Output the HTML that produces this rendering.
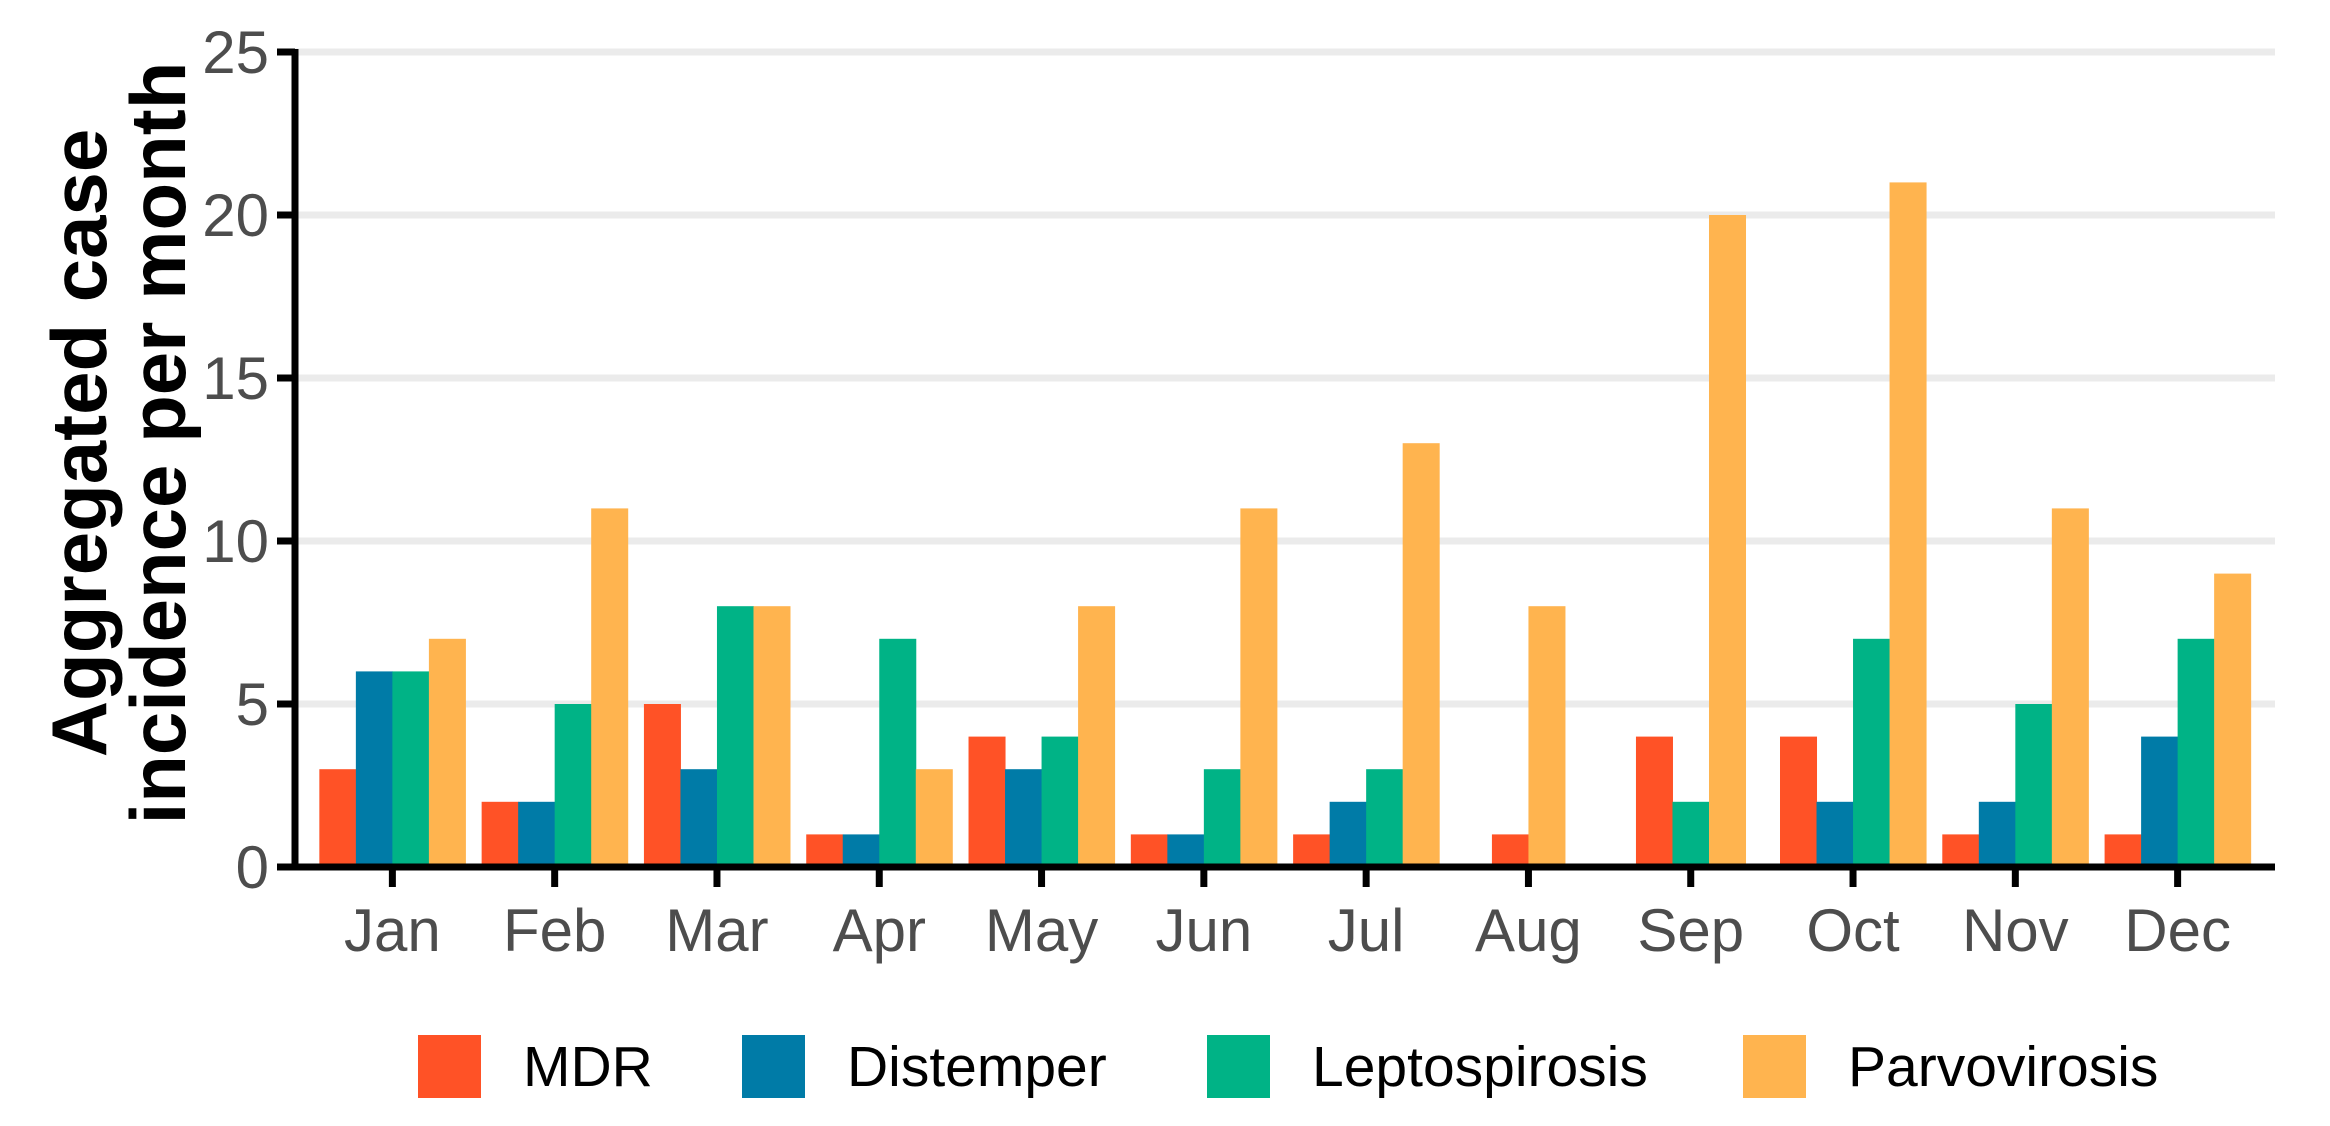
<!DOCTYPE html>
<html><head><meta charset="utf-8"><style>
html,body{margin:0;padding:0;background:#fff;}
svg{display:block;font-family:"Liberation Sans",Arial,sans-serif;}
</style></head><body>
<svg id="chart" width="2330" height="1126" viewBox="0 0 2330 1126" xmlns="http://www.w3.org/2000/svg">
<g id="grid"></g>
<g id="bars"></g>
<g id="axes"></g>
<g id="ylab">
<text x="0" y="0" transform="translate(106,443) rotate(-90)" text-anchor="middle" font-weight="bold" font-size="78" fill="#000">Aggregated case</text>
<text x="0" y="0" transform="translate(185,443) rotate(-90)" text-anchor="middle" font-weight="bold" font-size="78" fill="#000">incidence per month</text>
</g>
<g id="legend"></g>
</svg>
<script>
const months = ["Jan","Feb","Mar","Apr","May","Jun","Jul","Aug","Sep","Oct","Nov","Dec"];
const seriesNames = ["MDR","Distemper","Leptospirosis","Parvovirosis"];
const mdr = [3,2,5,1,4,1,1,1,4,4,1,1];
const distemper = [6,2,3,1,3,1,2,0,0,2,2,4];
const lepto = [6,5,8,7,4,3,3,0,2,7,5,7];
const parvo = [7,11,8,3,8,11,13,8,20,21,11,9];
const yTicks = [0,5,10,15,20,25];
const colors = ["#FF5226","#007BA7","#00B386","#FFB44F"];
const series = [mdr,distemper,lepto,parvo];

const NS="http://www.w3.org/2000/svg";
const x0=295, x1=2275, y0=867, pxPerUnit=32.6;
const band=(x1-x0)/12.2;
const xc=i=>x0+(i+1-0.4)*band;
const y=v=>y0-v*pxPerUnit;
function mk(tag,attrs,parent){const e=document.createElementNS(NS,tag);for(const k in attrs)e.setAttribute(k,attrs[k]);parent.appendChild(e);return e;}
const grid=document.getElementById('grid'),bars=document.getElementById('bars'),axes=document.getElementById('axes'),legend=document.getElementById('legend');
yTicks.forEach(t=>{
  if(t>0){const g=mk('line',{x1:x0,x2:x1,y1:y(t),y2:y(t),stroke:'#ebebeb','stroke-width':7},grid);
  
  }
  const tk=mk('line',{x1:x0-18,x2:x0,y1:y(t),y2:y(t),stroke:'#000','stroke-width':7},axes);
  
  
  const lb=mk('text',{x:x0-26,y:y(t)+21,'text-anchor':'end','font-size':60,fill:'#4d4d4d'},axes);
  lb.textContent=t;
  
  
});
const bw=band*0.9/4;
months.forEach((m,i)=>{
  const present=[];series.forEach((s,k)=>{if(s[i]>0)present.push(k);});
  const start=xc(i)-present.length*bw/2;
  present.forEach((k,j)=>{
    const v=series[k][i];
    const r=mk('rect',{x:start+j*bw,y:y(v),width:bw+0.5,height:y0-y(v),fill:colors[k]},bars);
    
    
  });
  const tk=mk('line',{x1:xc(i),x2:xc(i),y1:y0,y2:y0+20,stroke:'#000','stroke-width':7},axes);
  
  
  const lb=mk('text',{x:xc(i),y:y0+84,'text-anchor':'middle','font-size':60,fill:'#4d4d4d'},axes);
  lb.textContent=m;
  
  
});
const ya=mk('line',{x1:x0,x2:x0,y1:y(25)-3,y2:y0+3.5,stroke:'#000','stroke-width':7},axes);


const xa=mk('line',{x1:x0-3.5,x2:x1,y1:y0,y2:y0,stroke:'#000','stroke-width':7},axes);


const keyX=[418,742,1207,1743];
seriesNames.forEach((n,k)=>{
  const g=mk('g',{},legend);
  
  
  mk('rect',{x:keyX[k],y:1035,width:63,height:63,fill:colors[k]},g);
  const t=mk('text',{x:keyX[k]+105,y:1086,'font-size':57,fill:'#000'},g);
  t.textContent=n;
});
</script>
</body></html>
